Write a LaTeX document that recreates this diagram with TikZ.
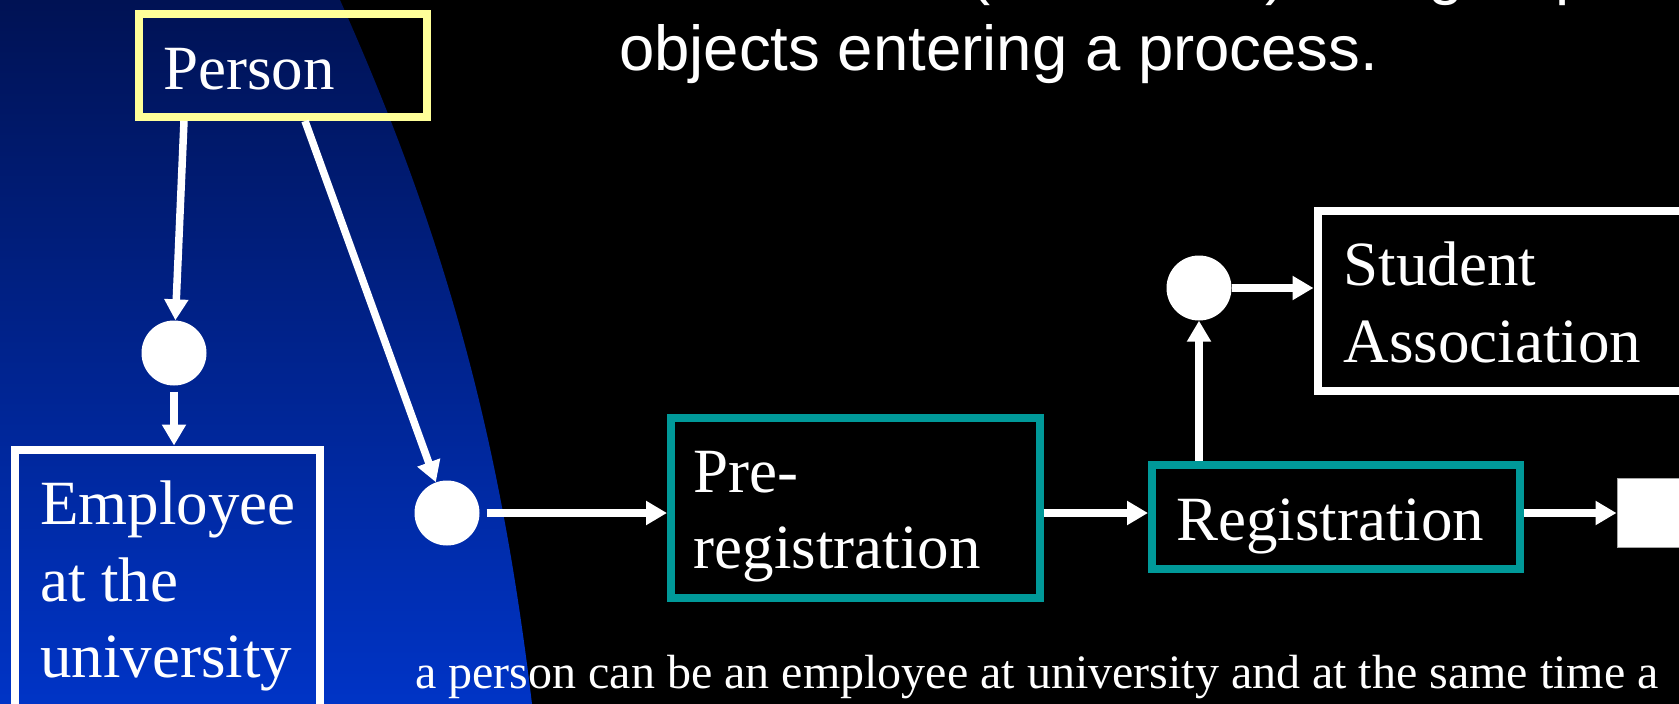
\documentclass[tikz,border=0pt]{standalone}
\usepackage{fontspec}
\setmainfont{Liberation Serif}
\newfontfamily\headfont{Liberation Sans}
\usetikzlibrary{arrows.meta}
\definecolor{tealline}{RGB}{0,153,153}
\definecolor{paleyellow}{RGB}{255,255,153}
\definecolor{navytop}{RGB}{0,18,84}
\definecolor{navymid}{RGB}{0,38,148}
\definecolor{navybot}{RGB}{0,52,198}
\begin{document}
\begin{tikzpicture}[x=1pt,y=-1pt,
  box/.style={draw, rectangle, line width=8pt, inner sep=0pt},
  objbox/.style={box, draw=white},
  procbox/.style={box, draw=tealline},
  junction/.style={circle, fill=white, minimum size=65pt, inner sep=0pt},
  flow/.style={draw=white, line width=7.5pt, -{Triangle[width=23pt,length=21pt]}},
  lbl/.style={text=white, inner sep=0pt, anchor=base west, font=\fontsize{63}{76}\selectfont},
  small/.style={lbl, font=\fontsize{48}{58}\selectfont},
  head/.style={lbl, font=\headfont\fontsize{63.5}{77}\selectfont}]
\useasboundingbox (0,0) rectangle (1679,704);
\clip (0,0) rectangle (1679,704);
% background: black with a blue curved panel on the left
\fill[black] (0,0) rectangle (1679,704);
\shade[top color=navytop, middle color=navymid, bottom color=navybot]
  (0,0) -- (340,0) .. controls (452,250) and (502,454) .. (532,704) -- (0,704) -- cycle;

% heading lines
\node[head] (head1) at (627,-7) {Use a node (or a circle) and group};
\node[head] (head2) at (619,70) {objects entering a process.};

% object and process boxes
\node[objbox, draw=paleyellow, minimum width=288pt, minimum height=103.5pt] (person) at (283,65.25) {};
\node[objbox, minimum width=305.3pt, minimum height=262.5pt] (emp) at (167.35,580.75) {};
\node[procbox, minimum width=368.5pt, minimum height=180pt] (prereg) at (855.25,507.5) {};
\node[procbox, minimum width=368pt, minimum height=104pt] (reg) at (1336,517) {};
\node[objbox, minimum width=402.5pt, minimum height=180.5pt] (student) at (1518.75,300.75) {};
\node[rectangle, fill=white, draw=gray!70, line width=1pt, inner sep=0pt,
      minimum width=103pt, minimum height=68.5pt] (out) at (1668.5,512.75) {};

% junction points
\node[junction] (c1) at (174,353) {};
\node[junction] (c2) at (447,513) {};
\node[junction] (c3) at (1199,288) {};

% box labels
\node[lbl] (person-t) at (163,89) {Person};
\node[lbl] (emp-t1) at (40,524.7) {Employee};
\node[lbl] (emp-t2) at (40,601) {at the};
\node[lbl] (emp-t3) at (40,677) {university};
\node[lbl] (prereg-t1) at (693.6,492) {Pre-};
\node[lbl] (prereg-t2) at (693.6,568.7) {registration};
\node[lbl] (reg-t) at (1176,540) {Registration};
\node[lbl] (student-t1) at (1343.5,285) {Student};
\node[lbl] (student-t2) at (1343.5,362) {Association};

% connectors
\draw[flow] ([xshift=-99pt]person.south) -- (c1);
\draw[flow, shorten <=6pt] (c1) -- (c1 |- emp.north);
\draw[flow] ([xshift=22pt]person.south) -- (c2);
\draw[flow, shorten <=7pt] (c2) -- (c2 -| prereg.west);
\draw[flow] (prereg.east |- c2) -- (reg.west |- c2);
\draw[flow] (reg.east |- c2) -- (out.west |- c2);
\draw[flow] (reg.north -| c3) -- (c3);
\draw[flow] (c3) -- (c3 -| student.west);

% note under the diagram
\node[small] (note) at (415,688.7) {a person can be an employee at university and at the same time a};
\end{tikzpicture}
\end{document}
